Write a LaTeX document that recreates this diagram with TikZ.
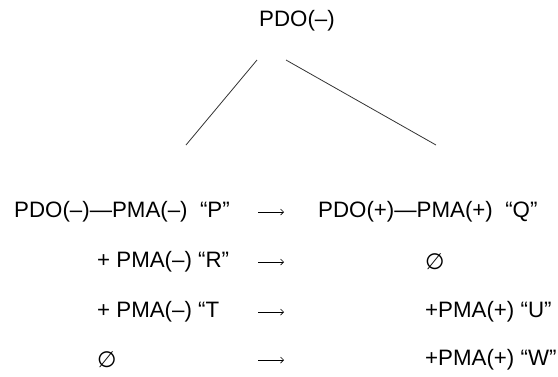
\documentclass[tikz,border=0pt]{standalone}
\usepackage{fontspec}
\setmainfont{Liberation Sans}
\newfontfamily\symfont{DejaVu Sans}
\usetikzlibrary{arrows.meta}
\begin{document}
\begin{tikzpicture}[x=1pt,y=-1pt,
  txt/.style={inner sep=0pt,font=\fontsize{22.3}{26}\selectfont,text=black},
  lft/.style={txt,anchor=west},
  branch/.style={draw=black!80,line width=0.8pt},
  arr/.style={draw=black,line width=0.7pt,-{Straight Barb[length=3pt,width=6pt]}}]
\useasboundingbox (0,0) rectangle (558,376);
% top node
\node[txt] (top) at (297,21) {PDO(–)};
\coordinate (tl) at (257,60);
\coordinate (tr) at (286,60);
\coordinate (bl) at (186,145);
\coordinate (br) at (436,145);
\draw[branch] (tl) -- (bl);
\draw[branch] (tr) -- (br);
% left column
\node[lft] (l1) at (14,212) {PDO(–)—PMA(–)\ \ “P”};
\node[lft] (l2) at (97,262) {+ PMA(–) “R”};
\node[lft] (l3) at (97,312) {+ PMA(–) “T};
\node[lft] (l4) at (97,360) {{\symfont ∅}};
% right column
\node[lft] (r1) at (318,212) {PDO(+)—PMA(+)\ \ “Q”};
\node[lft] (r2) at (425,262) {{\symfont ∅}};
\node[lft] (r3) at (425,312) {+PMA(+) “U”};
\node[lft] (r4) at (425,360) {+PMA(+) “W”};
% arrows
\foreach \i/\y in {1/212,2/262,3/312,4/360}{
  \coordinate (as\i) at (258,\y);
  \coordinate (ae\i) at (284,\y);
  \draw[arr] (as\i) -- (ae\i);
}
\end{tikzpicture}
\end{document}
